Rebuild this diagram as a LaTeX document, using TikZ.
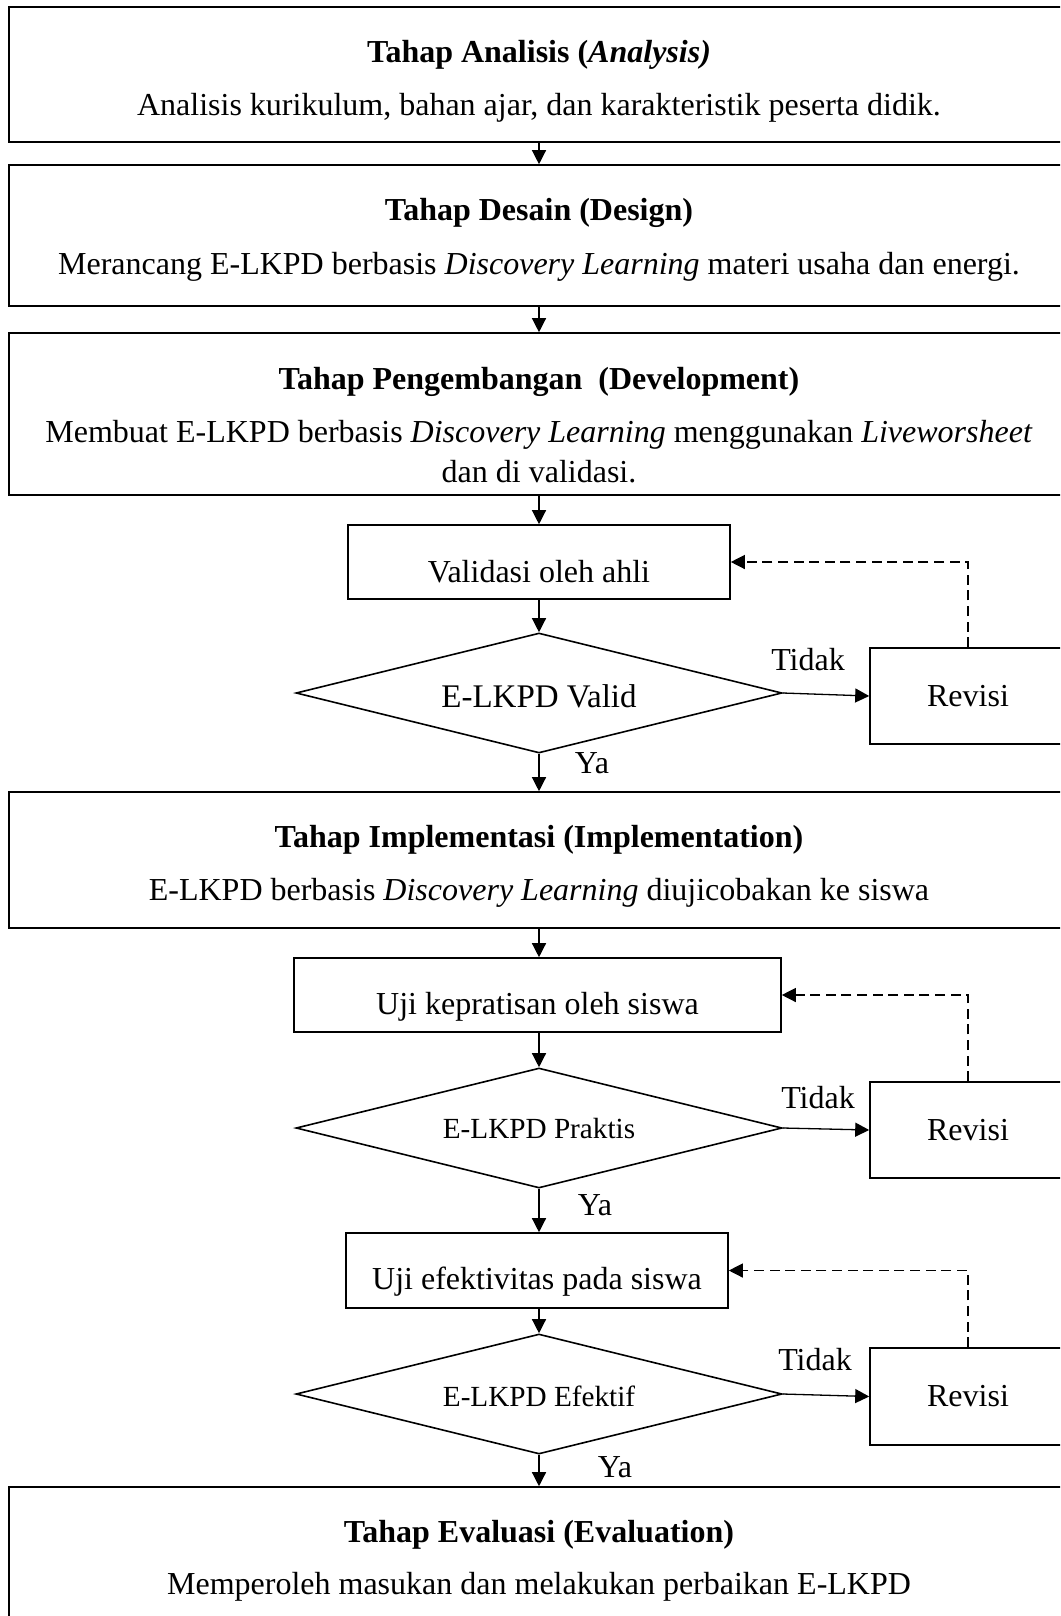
\documentclass[tikz,border=0pt]{standalone}
\usepackage{fontspec}
\setmainfont{Liberation Serif}
\usetikzlibrary{shapes.geometric,arrows.meta}

\begin{document}
\begin{tikzpicture}[x=0.5pt,y=-0.5pt,
  font=\fontsize{16}{19}\selectfont,
  frame/.style={draw,line width=0.8pt,rectangle,inner sep=0pt},
  stage/.style={frame,minimum width=530pt},
  stepbox/.style={frame},
  decision/.style={draw,line width=0.8pt,diamond,aspect=4,inner sep=0pt,
    minimum width=243pt,minimum height=60pt},
  txt/.style={inner sep=0pt,anchor=center},
  large/.style={font=\fontsize{16.5}{19}\selectfont},
  small/.style={font=\fontsize{14.6}{17}\selectfont},
  flow/.style={line width=0.65pt,-{Triangle[length=7pt,width=7pt]}},
  back/.style={line width=0.65pt,dash pattern=on 5pt off 2.8pt,-{Triangle[length=7pt,width=7pt]}}
]
\useasboundingbox (0,0) rectangle (1060,1616);
\clip (0,0) rectangle (1060,1616);

% ---- Analysis ----
\node[stage,minimum height=67.5pt] (s1) at (539,74.5) {};
\node[txt] (s1t) at (539,55) {\textbf{Tahap Analisis (\textit{Analysis)}}};
\node[txt] (s1b) at (539,108) {Analisis kurikulum, bahan ajar, dan karakteristik peserta didik.};

% ---- Design ----
\node[stage,minimum height=70.5pt] (s2) at (539,235.5) {};
\node[txt] (s2t) at (539,213) {\textbf{Tahap Desain (Design)}};
\node[txt] (s2b) at (539,267) {Merancang E-LKPD berbasis \textit{Discovery Learning} materi usaha dan energi.};

% ---- Development ----
\node[stage,minimum height=81pt] (s3) at (539,414) {};
\node[txt] (s3t) at (539,382) {\textbf{Tahap Pengembangan\ \ (Development)}};
\node[txt] (s3b) at (539,435) {Membuat E-LKPD berbasis \textit{Discovery Learning} menggunakan \textit{Liveworsheet}};
\node[txt] (s3c) at (539,472) {dan di validasi.};

\node[stepbox,minimum width=191pt,minimum height=37pt] (v1) at (539,562) {};
\node[txt] (v1t) at (539,572) {Validasi oleh ahli};
\node[decision] (d1) at (539,693) {};
\node[txt,large] (d1t) at (539,696) {E-LKPD Valid};
\node[stepbox,minimum width=98pt,minimum height=48pt] (r1) at (968,696) {};
\node[txt] (r1t) at (968,696) {Revisi};
\node[txt] (n1) at (808,660) {Tidak};
\node[txt] (y1) at (592,763) {Ya};

% ---- Implementation ----
\node[stage,minimum height=68pt] (s4) at (539,860) {};
\node[txt] (s4t) at (539,840) {\textbf{Tahap Implementasi (Implementation)}};
\node[txt] (s4b) at (539,893) {E-LKPD berbasis \textit{Discovery Learning} diujicobakan ke siswa};

\node[stepbox,minimum width=243.5pt,minimum height=37pt] (v2) at (537.5,995) {};
\node[txt] (v2t) at (537.5,1007) {Uji kepratisan oleh siswa};
\node[decision] (d2) at (539,1128) {};
\node[txt,small] (d2t) at (539,1128) {E-LKPD Praktis};
\node[stepbox,minimum width=98pt,minimum height=48pt] (r2) at (968,1130) {};
\node[txt] (r2t) at (968,1130) {Revisi};
\node[txt] (n2) at (818,1098) {Tidak};
\node[txt] (y2) at (595,1205) {Ya};

\node[stepbox,minimum width=191pt,minimum height=37.5pt] (v3) at (537,1270.5) {};
\node[txt] (v3t) at (537,1282) {Uji efektivitas pada siswa};
\node[decision] (d3) at (539,1394) {};
\node[txt,small] (d3t) at (539,1396) {E-LKPD Efektif};
\node[stepbox,minimum width=98pt,minimum height=48.5pt] (r3) at (968,1396.5) {};
\node[txt] (r3t) at (968,1396) {Revisi};
\node[txt] (n3) at (815,1360) {Tidak};
\node[txt] (y3) at (615,1467) {Ya};

% ---- Evaluation ----
\node[stage,minimum height=80pt] (s5) at (539,1567) {};
\node[txt] (s5t) at (539,1535) {\textbf{Tahap Evaluasi (Evaluation)}};
\node[txt] (s5b) at (539,1587) {Memperoleh masukan dan melakukan perbaikan E-LKPD};

% ---- main flow ----
\draw[flow] (s1.south -| 539,0) -- (s2.north -| 539,0);
\draw[flow] (s2.south -| 539,0) -- (s3.north -| 539,0);
\draw[flow] (s3.south -| 539,0) -- (v1.north -| 539,0);
\draw[flow] (v1.south -| 539,0) -- (d1.north);
\draw[flow] (d1.south) -- (s4.north -| 539,0);
\draw[flow] (s4.south -| 539,0) -- (v2.north -| 539,0);
\draw[flow] (v2.south -| 539,0) -- (d2.north);
\draw[flow] (d2.south) -- (v3.north -| 539,0);
\draw[flow] (v3.south -| 539,0) -- (d3.north);
\draw[flow] (d3.south) -- (s5.north -| 539,0);

% ---- rejection branches ----
\draw[flow] (d1.east) -- (r1.west);
\draw[flow] (d2.east) -- (r2.west);
\draw[flow] (d3.east) -- (r3.west);
\draw[back] (r1.north) |- (v1.east);
\draw[back] (r2.north) |- (v2.east);
\draw[back] (r3.north) |- (v3.east);
\end{tikzpicture}
\end{document}
